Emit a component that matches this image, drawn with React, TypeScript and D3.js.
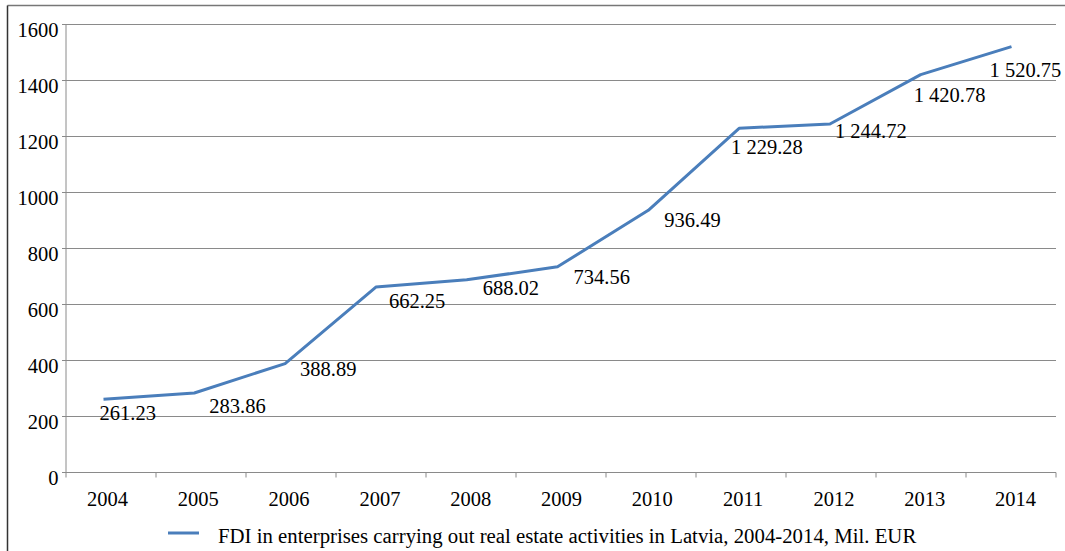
import React from "react";
import * as d3 from "d3";

const years = ["2004", "2005", "2006", "2007", "2008", "2009", "2010", "2011", "2012", "2013", "2014"];
const values = [261.23, 283.86, 388.89, 662.25, 688.02, 734.56, 936.49, 1229.28, 1244.72, 1420.78, 1520.75];
const valueLabels = ["261.23", "283.86", "388.89", "662.25", "688.02", "734.56", "936.49", "1 229.28", "1 244.72", "1 420.78", "1 520.75"];
const yTicks = [0, 200, 400, 600, 800, 1000, 1200, 1400, 1600];
const seriesName = "FDI in enterprises carrying out real estate activities in Latvia, 2004-2014, Mil. EUR";

// layout: data label offsets (dx, dy) relative to the point
const labelOffsets: [number, number][] = [
  [-4, 21], [15, 20], [15, 12], [13, 21], [16, 15], [16, 17.6],
  [16, 16.4], [-8, 26], [5, 14.3], [-7, 27], [-22, 30.3],
];

const W = 1065;
const H = 551;
const FONT = "Liberation Serif, Times New Roman, serif";
const LINE = "#4a7ebb";
const GRID = "#8a8a8a";
const FS = 20.5;
const txt = { fontFamily: FONT };

export default function App() {
  const plotL = 66, plotR = 1056, plotT = 24.5, plotB = 472.5;
  const y = d3.scaleLinear().domain([0, 1600]).range([plotB, plotT]);
  const band = d3.scaleBand().domain(years).range([plotL, plotR]);
  const xp = d3.scalePoint().domain(years).range([103.5, 1011.5]);

  const line = d3
    .line<number>()
    .x((_, i) => xp(years[i])!)
    .y((d) => y(d));

  const tickXs = years.map((yr) => band(yr)!).concat([plotR]);

  return (
    <svg
      width={W}
      height={H}
      style={{ position: "absolute", left: 0, top: 0, background: "#fff", fontFamily: FONT }}
    >
      <rect x={0} y={0} width={W} height={H} fill="#fff" />
      {/* outer frame */}
      <line x1={7.5} y1={5.5} x2={W} y2={5.5} stroke="#777" strokeWidth={1.5} />
      <line x1={7.5} y1={5.5} x2={7.5} y2={H} stroke="#333" strokeWidth={1.5} />

      {/* gridlines */}
      {yTicks.map((t) => (
        <line key={"g" + t} x1={plotL - 4} x2={plotR} y1={y(t)} y2={y(t)} stroke={GRID} strokeWidth={1} />
      ))}
      {/* y axis */}
      <line x1={plotL} x2={plotL} y1={plotT} y2={plotB} stroke={GRID} strokeWidth={1} />
      {yTicks.map((t) => (
        <text key={"yl" + t} x={58.5} y={y(t) + 12} textAnchor="end" fontSize={FS} fill="#000" style={txt}>
          {t}
        </text>
      ))}
      {/* x axis ticks */}
      {tickXs.map((tx, i) => (
        <line key={"xt" + i} x1={tx} x2={tx} y1={plotB} y2={plotB + 5} stroke={GRID} strokeWidth={1} />
      ))}
      {years.map((yr) => (
        <text key={"xl" + yr} x={xp(yr)! + 4} y={505.5} textAnchor="middle" fontSize={FS} fill="#000" style={txt}>
          {yr}
        </text>
      ))}

      {/* series */}
      <path d={line(values) || ""} fill="none" stroke={LINE} strokeWidth={3} strokeLinejoin="round" />
      {values.map((v, i) => (
        <text
          key={"dl" + i}
          x={xp(years[i])! + labelOffsets[i][0]}
          y={y(v) + labelOffsets[i][1]}
          fontSize={FS}
          fill="#000"
          style={txt}
        >
          {valueLabels[i]}
        </text>
      ))}

      {/* legend */}
      <line x1={168} x2={199} y1={533} y2={533} stroke={LINE} strokeWidth={3} />
      <text x={218} y={542.5} fontSize={20.8} fill="#000" style={txt}>
        {seriesName}
      </text>
    </svg>
  );
}
